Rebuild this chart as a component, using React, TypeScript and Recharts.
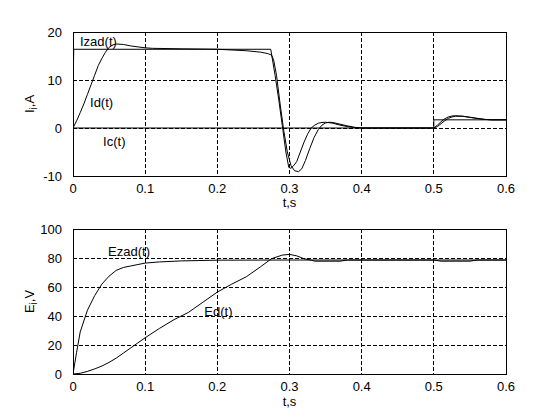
import {
  LineChart,
  Line,
  XAxis,
  YAxis,
  CartesianGrid,
  ReferenceArea,
  ReferenceDot,
} from "recharts";

// time axis, shared by both plots
const timeTicks = [0, 0.1, 0.2, 0.3, 0.4, 0.5, 0.6];
const currentTicks = [-10, 0, 10, 20];
const emfTicks = [0, 20, 40, 60, 80, 100];

// Izad(t) - reference current, A
const izadT = [0, 0.0005, 0.001, 0.1, 0.2, 0.274, 0.28, 0.285, 0.29, 0.295, 0.299, 0.302, 0.306, 0.31, 0.315, 0.32, 0.325, 0.33, 0.335, 0.34, 0.345, 0.35, 0.36, 0.37, 0.38, 0.39, 0.4, 0.5, 0.505, 0.51, 0.515, 0.52, 0.525, 0.53, 0.54, 0.55, 0.56, 0.57, 0.58, 0.6];
const izadV = [0, 12, 16.4, 16.4, 16.4, 16.4, 11, 6, 0.5, -5, -8.2, -8.4, -7.8, -7, -5, -3, -1.3, 0, 0.6, 1.0, 1.15, 1.2, 1.0, 0.6, 0.3, 0.1, 0, 0, 0.6, 1.3, 1.9, 2.3, 2.5, 2.55, 2.45, 2.25, 2.0, 1.8, 1.7, 1.7];

// Id(t) - armature current, A
const idT = [0, 0.005, 0.01, 0.015, 0.02, 0.025, 0.03, 0.035, 0.04, 0.045, 0.05, 0.055, 0.06, 0.07, 0.08, 0.09, 0.1, 0.11, 0.15, 0.2, 0.24, 0.26, 0.27, 0.275, 0.278, 0.282, 0.287, 0.292, 0.297, 0.302, 0.307, 0.3125, 0.317, 0.322, 0.328, 0.334, 0.34, 0.345, 0.35, 0.355, 0.36, 0.37, 0.38, 0.39, 0.4, 0.5, 0.505, 0.51, 0.515, 0.52, 0.525, 0.53, 0.54, 0.55, 0.56, 0.57, 0.58, 0.6];
const idV = [0, 1.5, 3.2, 5, 7, 9, 11, 13, 14.5, 15.8, 16.8, 17.3, 17.5, 17.4, 17.1, 16.9, 16.7, 16.6, 16.5, 16.4, 16.1, 15.8, 15.5, 15.2, 14.2, 11, 5, -0.5, -5, -7.8, -8.9, -9.1, -8.5, -6.8, -4.3, -2, -0.3, 0.6, 1.05, 1.2, 1.15, 0.8, 0.45, 0.15, 0, 0, 0.3, 0.9, 1.5, 2.0, 2.3, 2.45, 2.45, 2.2, 2.0, 1.8, 1.7, 1.7];

// Ic(t) - load current, A
const icT = [0, 0.5, 0.5, 0.6];
const icV = [0, 0, 1.7, 1.7];

// Ezad(t) - reference emf, V
const ezadT = [0, 0.005, 0.01, 0.02, 0.03, 0.04, 0.05, 0.06, 0.07, 0.08, 0.09, 0.1, 0.12, 0.15, 0.2, 0.3, 0.4, 0.5, 0.6];
const ezadV = [0, 15, 29, 44, 54, 62, 67.5, 71.5, 73.5, 74.5, 75.5, 76.5, 77.3, 78, 78.5, 78.6, 78.6, 78.6, 78.6];

// Ed(t) - motor emf, V
const edT = [0, 0.01, 0.02, 0.03, 0.04, 0.05, 0.06, 0.07, 0.08, 0.09, 0.1, 0.12, 0.14, 0.16, 0.18, 0.2, 0.22, 0.24, 0.26, 0.275, 0.29, 0.3, 0.31, 0.32, 0.33, 0.335, 0.37, 0.38, 0.5, 0.51, 0.55, 0.56, 0.6];
const edV = [0, 0.5, 1.8, 3.5, 5.5, 8, 11, 14.5, 18, 21.5, 25, 31.5, 37.5, 42.5, 49.5, 56.5, 62, 67, 74, 79.5, 82, 82.5, 81.5, 79.5, 78.5, 77.8, 77.8, 78.6, 78.6, 77.8, 77.8, 78.6, 78.6];

// curve captions: text, t, value at the text baseline start
const topNotes = [
  { text: "Izad(t)", t: 0.0097, v: 17.1 },
  { text: "Id(t)", t: 0.0236, v: 4.4 },
  { text: "Ic(t)", t: 0.0417, v: -3.75 },
];
const bottomNotes = [
  { text: "Ezad(t)", t: 0.0486, v: 81.4 },
  { text: "Ed(t)", t: 0.182, v: 40 },
];

const zip = (ts: number[], vs: number[]) => ts.map((t, i) => ({ t, v: vs[i] }));

const FONT = 13;

function YTitle({ viewBox, main, unit }: any) {
  const cx = (viewBox?.x ?? 0) + 34;
  const cy = (viewBox?.y ?? 0) + (viewBox?.height ?? 0) / 2;
  return (
    <text
      x={cx}
      y={cy}
      transform={`rotate(-90 ${cx} ${cy})`}
      textAnchor="middle"
      fontSize={FONT}
      fill="#000"
    >
      {main}
      <tspan dy={3} fontSize={10}>
        i
      </tspan>
      <tspan dy={-3}>{unit}</tspan>
    </text>
  );
}

function XTitle({ viewBox, gap }: any) {
  const x = (viewBox?.x ?? 0) + (viewBox?.width ?? 0) / 2;
  const y = (viewBox?.y ?? 0) + gap;
  return (
    <text x={x} y={y} textAnchor="middle" fontSize={FONT} fill="#000">
      t,s
    </text>
  );
}

function Note({ cx, cy, text }: any) {
  return (
    <text x={cx} y={cy} fontSize={FONT} fill="#000">
      {text}
    </text>
  );
}

const tickStyle = { fontSize: FONT, fill: "#000" };

interface PanelProps {
  height: number;
  top: number;
  xHeight: number;
  titleGap: number;
  yDomain: [number, number];
  yTicks: number[];
  main: string;
  unit: string;
  notes: { text: string; t: number; v: number }[];
  series: { t: number; v: number }[][];
}

function Panel({ height, top, xHeight, titleGap, yDomain, yTicks, main, unit, notes, series }: PanelProps) {
  return (
    <LineChart
      width={560}
      height={height}
      margin={{ top, right: 54, left: 0, bottom: 0 }}
    >
      <CartesianGrid
        stroke="#000"
        strokeDasharray="4 2"
        horizontalValues={yTicks}
        verticalValues={timeTicks}
        shapeRendering="crispEdges"
      />
      <XAxis
        type="number"
        dataKey="t"
        domain={[0, 0.6]}
        ticks={timeTicks}
        allowDataOverflow
        axisLine={false}
        tickLine={false}
        tick={tickStyle}
        tickMargin={2}
        height={xHeight}
        label={<XTitle gap={titleGap} />}
      />
      <YAxis
        type="number"
        dataKey="v"
        domain={yDomain}
        ticks={yTicks}
        allowDataOverflow
        axisLine={false}
        tickLine={false}
        tick={tickStyle}
        tickMargin={5}
        width={73}
        label={<YTitle main={main} unit={unit} />}
      />
      {series.map((d, i) => (
        <Line
          key={i}
          data={d}
          dataKey="v"
          type="linear"
          stroke="#000"
          strokeWidth={1}
          dot={false}
          activeDot={false}
          isAnimationActive={false}
        />
      ))}
      <ReferenceArea
        x1={0}
        x2={0.6}
        y1={yDomain[0]}
        y2={yDomain[1]}
        fill="none"
        stroke="#000"
        strokeWidth={1}
        shapeRendering="crispEdges"
      />
      {notes.map((n) => (
        <ReferenceDot
          key={n.text}
          x={n.t}
          y={n.v}
          r={0}
          shape={(p: any) => <Note {...p} text={n.text} />}
        />
      ))}
    </LineChart>
  );
}

export default function App() {
  return (
    <div
      style={{
        position: "absolute",
        left: 0,
        top: 0,
        width: 560,
        height: 420,
        background: "#fff",
        fontFamily: "'Liberation Sans', Arial, sans-serif",
      }}
    >
      <div style={{ position: "absolute", left: 0, top: 0 }}>
        <Panel
          height={215}
          top={32}
          xHeight={39}
          titleGap={31}
          yDomain={[-10, 20]}
          yTicks={currentTicks}
          main="I"
          unit=",A"
          notes={topNotes}
          series={[zip(izadT, izadV), zip(idT, idV), zip(icT, icV)]}
        />
      </div>
      <div style={{ position: "absolute", left: 0, top: 200 }}>
        <Panel
          height={220}
          top={29}
          xHeight={46}
          titleGap={32}
          yDomain={[0, 100]}
          yTicks={emfTicks}
          main="E"
          unit=",V"
          notes={bottomNotes}
          series={[zip(ezadT, ezadV), zip(edT, edV)]}
        />
      </div>
    </div>
  );
}
